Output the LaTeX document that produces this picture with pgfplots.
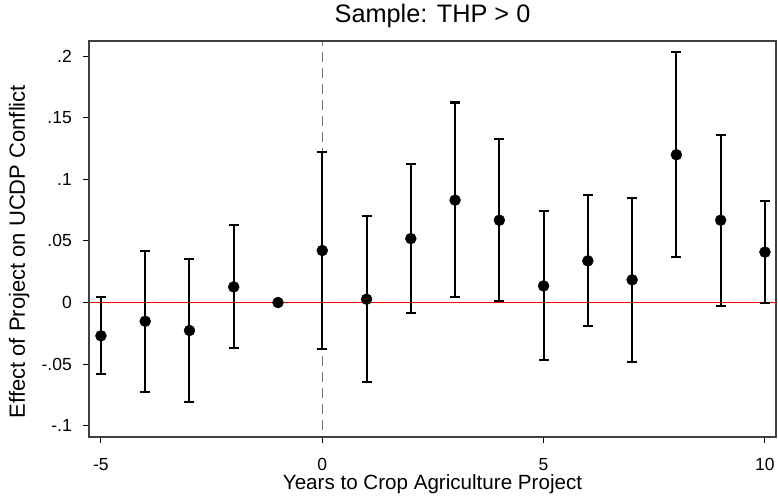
\documentclass[border=0pt]{standalone}
\usepackage{pgfplots}
\pgfplotsset{compat=1.18}
\usepackage{pgfplotstable}
\usepackage{fontspec}
\setmainfont{Liberation Sans}
\pgfplotstableread{
x y ep em
-5 -0.0270 0.0313 0.0309
-4 -0.0152 0.0574 0.0573
-3 -0.0227 0.0581 0.0579
-2 0.0127 0.0501 0.0498
0 0.0422 0.0796 0.0795
1 0.0027 0.0674 0.0674
2 0.0519 0.0604 0.0600
3 0.0831 0.0792 0.0788
4 0.0668 0.0660 0.0657
5 0.0135 0.0606 0.0603
6 0.0338 0.0533 0.0527
7 0.0184 0.0668 0.0668
8 0.1199 0.0830 0.0828
9 0.0668 0.0693 0.0695
10 0.0409 0.0411 0.0414
}\errdata
\pgfplotstableread{
x y
-5 -0.0270
-4 -0.0152
-3 -0.0227
-2 0.0127
-1 0.0000
0 0.0422
1 0.0027
2 0.0519
3 0.0831
4 0.0668
5 0.0135
6 0.0338
7 0.0184
8 0.1199
9 0.0668
10 0.0409
}\pointdata
\begin{document}
\begin{tikzpicture}
\begin{axis}[
  name=ax,
  scale only axis,
  width=687bp, height=396bp,
  xmin=-5.27, xmax=10.25,
  ymin=-0.1091, ymax=0.2122,
  axis line style={black!75, line width=1.2bp},
  xtick pos=left, ytick pos=left,
  clip=false,
  tick align=outside,
  major tick length=6bp,
  tick style={black, line width=1bp},
  xtick={-5,0,5,10},
  xticklabels={-5,0,5,10},
  ytick={-0.1,-0.05,0,0.05,0.1,0.15,0.2},
  yticklabels={-.1,-.05,0,.05,.1,.15,.2},
  xticklabel style={anchor=base, yshift=-27bp, font=\fontsize{17.5bp}{20bp}\selectfont},
  yticklabel style={anchor=east, inner sep=0pt, xshift=-11bp, font=\fontsize{17.5bp}{20bp}\selectfont},
  title={Sample: THP > 0},
  title style={at={(axis description cs:0.5,1.0328)}, anchor=base, font=\fontsize{25.3bp}{30bp}\selectfont},
  xlabel={Years to Crop Agriculture Project},
  xlabel style={at={(axis description cs:0.5,-0.1338)}, anchor=base, font=\fontsize{20.6bp}{24bp}\selectfont},
  ylabel={Effect of Project on UCDP Conflict},
  ylabel style={at={(axis description cs:-0.0932,0.468)}, anchor=base, rotate=0, font=\fontsize{22bp}{26bp}\selectfont},
]
\addplot[red, line width=1.3bp] coordinates {(-5.27,0) (10.25,0)};
\addplot[black!55, line width=1.2bp, dash pattern=on 10bp off 6bp, dash phase=5bp] coordinates {(0,0.2122) (0,-0.1091)};
\addplot[black, mark=none, draw=none, forget plot,
  error bars/.cd, y dir=both, y explicit,
  error bar style={black, line width=2bp},
  error mark options={black, line width=2bp, mark size=5bp, rotate=90}]
  table[x=x, y=y, y error plus=ep, y error minus=em] {\errdata};
\addplot[black, only marks, mark=*, mark size=5.5bp] table[x=x, y=y] {\pointdata};
\draw[black!75, line width=1.2bp] (rel axis cs:0,0) rectangle (rel axis cs:1,1);
\end{axis}
\pgfresetboundingbox
\path (ax.south west) ++(-89bp,-60bp) coordinate (bl);
\path (ax.north east) ++(2bp,41bp) coordinate (tr);
\path (bl) rectangle (tr);
\end{tikzpicture}
\end{document}
